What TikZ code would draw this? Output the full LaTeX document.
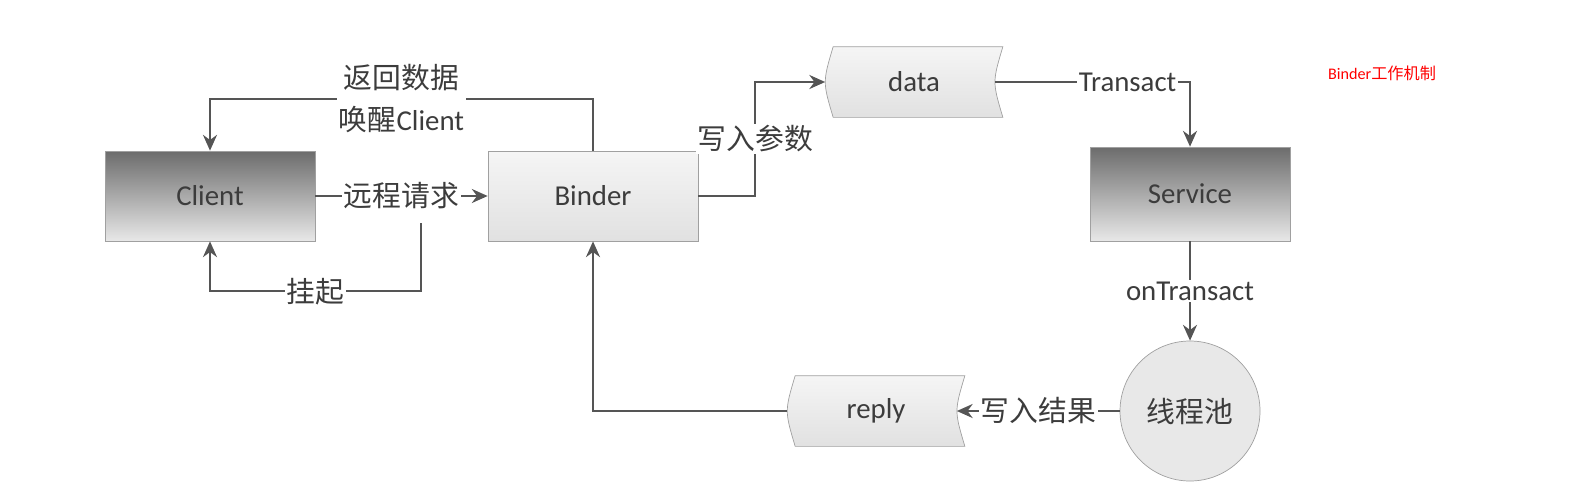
\documentclass[tikz,border=0pt]{standalone}
\usepackage{fontspec}
\setmainfont{Carlito}
\newfontfamily\cjk{Noto Sans CJK SC}
\usetikzlibrary{arrows.meta,backgrounds}
\definecolor{boxdark}{RGB}{108,108,108}
\definecolor{boxlight}{RGB}{232,232,232}
\definecolor{paletop}{RGB}{245,245,245}
\definecolor{palebottom}{RGB}{225,225,225}
\definecolor{rim}{RGB}{160,160,160}
\definecolor{wire}{RGB}{85,85,85}
\definecolor{ink}{RGB}{60,60,60}
\definecolor{titlered}{RGB}{255,0,0}

\begin{document}
\begin{tikzpicture}
        \tikzstyle{every node}=[font=\fontsize{16.4}{24}\selectfont, text=ink]
        \tikzstyle{darkbox}=[draw=rim, top color=boxdark, bottom color=boxlight, minimum width=4.2cm, minimum height=1.8cm]
        \tikzstyle{palebox}=[draw=rim, top color=paletop, bottom color=palebottom, minimum width=4.2cm, minimum height=1.8cm]
        \tikzstyle{store}=[minimum width=3.54cm, minimum height=1.4cm]
        \tikzstyle{storeline}=[draw=rim, top color=paletop, bottom color=palebottom]
        \tikzstyle{wireline}=[draw=wire, line width=1.1pt, ->, >={Stealth[length=9pt, width=8pt]}]
        \tikzstyle{lbl}=[fill=white, inner sep=1pt]
        \useasboundingbox (0,0) rectangle (31.56,-9.98);
        \node [darkbox] (client) at (4.2,-3.92) {Client};
        \node [palebox] (binder) at (11.86,-3.92) {Binder};
        \node [darkbox, minimum width=4cm, minimum height=1.88cm] (service) at (23.8,-3.88) {Service};
        \node [store] (data) at (18.28,-1.64) {data};
        \node [store] (reply) at (17.52,-8.22) {reply};
        \node [circle, draw=rim, fill=boxlight, minimum size=2.8cm] (pool) at (23.8,-8.22) {\cjk 线程池};
        \node [font=\fontsize{9.2}{11}\selectfont, text=titlered] (title) at (27.64,-1.46) {Binder{\cjk 工作机制}};
        \coordinate (hang) at (8.42,-4.46);
        \begin{scope}[on background layer]
        \draw [storeline] ([xshift=0.16cm]data.north west) .. controls ([xshift=-0.05cm]data.west) .. ([xshift=0.16cm]data.south west) -- (data.south east) .. controls ([xshift=-0.21cm]data.east) .. (data.north east) -- cycle;
        \draw [storeline] ([xshift=0.16cm]reply.north west) .. controls ([xshift=-0.05cm]reply.west) .. ([xshift=0.16cm]reply.south west) -- (reply.south east) .. controls ([xshift=-0.21cm]reply.east) .. (reply.north east) -- cycle;
        \end{scope}
        \draw [wireline] (client) -- node [lbl] {\cjk 远程请求} (binder);
        \draw [wireline] (hang) |- node [lbl, pos=0.75] {\cjk 挂起} ([yshift=-1cm]client.south) -- (client.south);
        \draw [wireline] (binder.north) -- ++(0,1.04) -| node [lbl, pos=0.25, align=center] {{\cjk 返回数据}\\{\cjk 唤醒}Client} (client.north);
        \draw [wireline] (binder.east) -- ++(1.14,0) |- node [lbl, pos=0.25] {\cjk 写入参数} (data.west);
        \draw [wireline] ([xshift=-0.16cm]data.east) -| node [lbl, pos=0.34] {Transact} (service.north);
        \draw [wireline] (service) -- node [lbl] {onTransact} (pool);
        \draw [wireline] (pool) -- node [lbl] {\cjk 写入结果} ([xshift=-0.16cm]reply.east);
        \draw [wireline] (reply.west) -| (binder.south);
\end{tikzpicture}
\end{document}
